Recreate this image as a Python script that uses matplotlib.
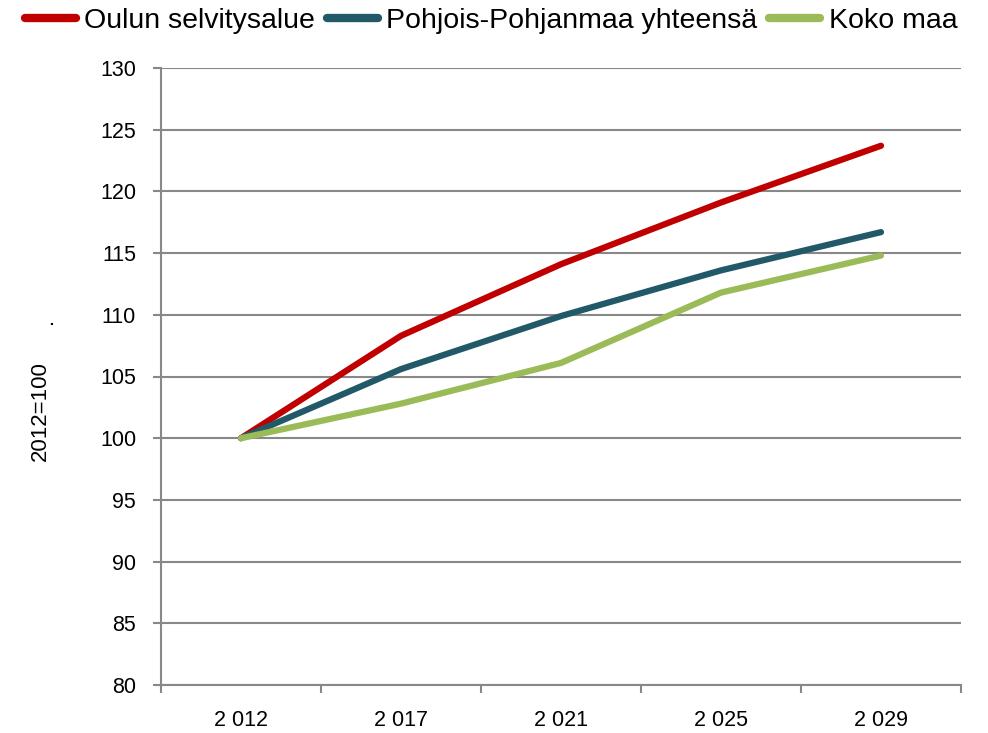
import matplotlib
matplotlib.use("Agg")
import matplotlib.pyplot as plt

DPI = 100

years = ["2 012", "2 017", "2 021", "2 025", "2 029"]
oulu = [100, 108.3, 114.1, 119.1, 123.7]
pohjois = [100, 105.6, 109.9, 113.6, 116.7]
koko = [100, 102.8, 106.1, 111.8, 114.8]

series = [
    ("Oulun selvitysalue", oulu, "#C00000"),
    ("Pohjois-Pohjanmaa yhteensä", pohjois, "#215968"),
    ("Koko maa", koko, "#9BBB59"),
]

plt.rcParams['font.family'] = ['Liberation Sans', 'DejaVu Sans']
GRID = "#888888"


def main():
    fig = plt.figure(figsize=(988 / DPI, 733 / DPI), dpi=DPI)
    ax = fig.add_axes([161 / 988, 1 - 685 / 733, 800 / 988, 617 / 733])

    x = range(len(years))
    for name, vals, col in series:
        ax.plot(x, vals, color=col, lw=4.5, label=name, solid_capstyle='round')

    ax.set_xlim(-0.5, len(years) - 0.5)
    ax.set_ylim(80, 130)
    ax.set_yticks(range(80, 131, 5))
    ax.set_xticks(x)
    ax.set_xticklabels(years)
    ax.set_xticks([i - 0.5 for i in range(len(years) + 1)], minor=True)
    ax.tick_params(axis='x', which='major', length=0, pad=18, labelsize=15.5)
    ax.tick_params(axis='x', which='minor', length=6, width=1.5, color=GRID)
    ax.tick_params(axis='y', length=6, width=1.5, color=GRID, pad=12, labelsize=15.5)

    ax.grid(axis='y', color=GRID, lw=1.5)
    ax.set_axisbelow(True)
    for s in ['top', 'right']:
        ax.spines[s].set_visible(False)
    for s in ['left', 'bottom']:
        ax.spines[s].set_color(GRID)
        ax.spines[s].set_linewidth(1.5)

    fig.text(40 / 988, 1 - 411 / 733, "2012=100", rotation=90, ha='center', va='center',
             fontsize=16)
    fig.text(46 / 988, 1 - 321 / 733, ".", rotation=90, ha='center', va='center',
             fontsize=16)

    leg = fig.legend(loc='center', bbox_to_anchor=(0.497, 1 - 21 / 733), ncol=3, frameon=False,
                     fontsize=20.5, handlelength=1.8, handletextpad=0.3, columnspacing=0.4,
                     borderpad=0, borderaxespad=0)
    for h in leg.legend_handles:
        h.set_linewidth(6)

    fig.savefig("out.png", dpi=DPI)
    plt.close('all')


if __name__ == '__main__':
    main()
